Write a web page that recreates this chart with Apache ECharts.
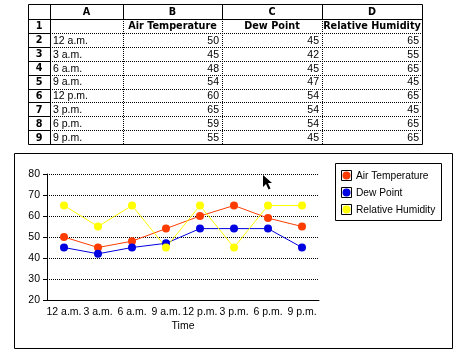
<!DOCTYPE html>
<html><head><meta charset="utf-8">
<script src="https://cdn.jsdelivr.net/npm/echarts@6/dist/echarts.min.js"></script>
<style>html,body{margin:0;padding:0;background:#fff}#c{width:458px;height:354px}</style>
</head><body><div id="c"></div>
<script>
// ---- data ----
var categories = ['12 a.m.','3 a.m.','6 a.m.','9 a.m.','12 p.m.','3 p.m.','6 p.m.','9 p.m.'];
var seriesNames = ['Air Temperature','Dew Point','Relative Humidity'];
var airTemperature = [50,45,48,54,60,65,59,55];
var dewPoint = [45,42,45,47,54,54,54,45];
var relativeHumidity = [65,55,65,45,65,45,65,65];
var columnLetters = ['A','B','C','D'];
var yTicks = {min:20, max:80, interval:10};
var axisName = 'Time';

(function(){
var seriesValues = [airTemperature, dewPoint, relativeHumidity];
var colors = ['#ff3c00','#0000e0','#ffff00'];

var chart = echarts.init(document.getElementById('c'), null, {renderer:'canvas'});
var FONT = 'Liberation Sans';
var g = [];

// ---- spreadsheet table ----
var colX = [28, 50, 123, 222, 322, 422];
var tTop = 4, headerH = 15, rowH = 13.9;
var nRows = 9;
var tBottom = tTop + headerH + nRows*rowH;
function ln(x1,y1,x2,y2,dash){
  g.push({type:'line', shape:{x1:x1,y1:y1,x2:x2,y2:y2}, silent:true,
    style:{stroke:'#000', lineWidth:1, lineDash: dash ? [1,1] : null}});
}
g.push({type:'rect', shape:{x:colX[0]+0.5, y:tTop+0.5, width:colX[5]-colX[0], height:Math.round(tBottom)-tTop}, style:{fill:'none', stroke:'#000', lineWidth:1}});
var hb = tTop+headerH;
ln(colX[0], hb+0.5, colX[5], hb+0.5, false);
for (var i=1;i<5;i++) ln(colX[i]+0.5, tTop, colX[i]+0.5, hb, false);
ln(colX[1]+0.5, hb, colX[1]+0.5, tBottom, false);
for (var i=2;i<5;i++) ln(colX[i]+0.5, hb, colX[i]+0.5, tBottom, true);
for (var r=1;r<nRows;r++){
  var y = Math.round(hb + r*rowH)+0.5;
  ln(colX[0], y, colX[1], y, false);
  ln(colX[1], y, colX[5], y, true);
}
function txt(x,y,s,align,bold){
  g.push({type:'text', x:x, y:y, silent:true, style:{text:s, x:0, y:0, align:align, verticalAlign:'middle',
    font:(bold?'bold 9.7px "DejaVu Sans"':'10.5px "'+FONT+'"'), fill:'#000'}});
}
for (var i=0;i<4;i++) txt((colX[i+1]+colX[i+2])/2, tTop+headerH/2+1, columnLetters[i], 'center', true);
for (var r=0;r<nRows;r++) txt((colX[0]+colX[1])/2, hb + r*rowH + rowH/2+1, String(r+1), 'center', true);
for (var i=0;i<3;i++) txt((colX[i+2]+colX[i+3])/2, hb + rowH/2+1, seriesNames[i], 'center', true);
for (var r=0;r<categories.length;r++){
  var yy = hb + (r+1)*rowH + rowH/2+1;
  txt(colX[1]+3, yy, categories[r], 'left', false);
  for (var i=0;i<3;i++) txt(colX[i+3]-3, yy, String(seriesValues[i][r]), 'right', false);
}

// ---- chart box ----
g.push({type:'rect', shape:{x:14.5, y:153.5, width:438, height:195}, z:-1, style:{fill:'none', stroke:'#000', lineWidth:1}});

// ---- legend (drawn) ----
g.push({type:'rect', shape:{x:335.5, y:163.5, width:106, height:57}, style:{fill:'#fff', stroke:'#000', lineWidth:1}});
for (var i=0;i<3;i++){
  var cy = Math.round(176 + i*17);
  g.push({type:'rect', shape:{x:341.5, y:cy-5.5, width:10, height:10}, style:{fill:'#fff', stroke:'#000', lineWidth:1}});
  g.push({type:'circle', shape:{cx:346.5, cy:cy-0.5, r:4}, style:{fill:colors[i]}});
  g.push({type:'text', x:356, y:cy, style:{text:seriesNames[i], align:'left', verticalAlign:'middle', font:'10.2px "'+FONT+'"', fill:'#000'}});
}

// ---- mouse cursor ----
g.push({type:'polygon', shape:{points:[[263,175],[263,187],[266,184],[268.5,189.5],[270.5,188.5],[268,183],[272,183]]}, style:{fill:'#000'}});

var series = seriesNames.map(function(n,i){
  return {name:n, type:'line', data:seriesValues[i], symbol:'circle', symbolSize:8,
    itemStyle:{color:colors[i]}, lineStyle:{color:colors[i], width:1}};
});

chart.setOption({
  animation:false,
  grid:{left:47, top:174, width:272, height:126},
  xAxis:{type:'category', data:categories, boundaryGap:true,
    name:axisName, nameLocation:'middle', nameGap:21,
    nameTextStyle:{color:'#000', fontFamily:FONT, fontSize:10.5},
    axisLine:{lineStyle:{color:'#000', width:1}}, axisTick:{show:false},
    axisLabel:{color:'#000', fontFamily:FONT, fontSize:10.5, margin:7, interval:0}},
  yAxis:{type:'value', min:yTicks.min, max:yTicks.max, interval:yTicks.interval,
    axisLine:{show:true, lineStyle:{color:'#000', width:1}},
    axisTick:{show:true, length:4, lineStyle:{color:'#000'}},
    axisLabel:{color:'#000', fontFamily:FONT, fontSize:10.5, margin:7},
    splitLine:{show:true, lineStyle:{color:'#000', type:[1,1], width:1}}},
  series:series,
  graphic:g
});
})();
</script></body></html>
